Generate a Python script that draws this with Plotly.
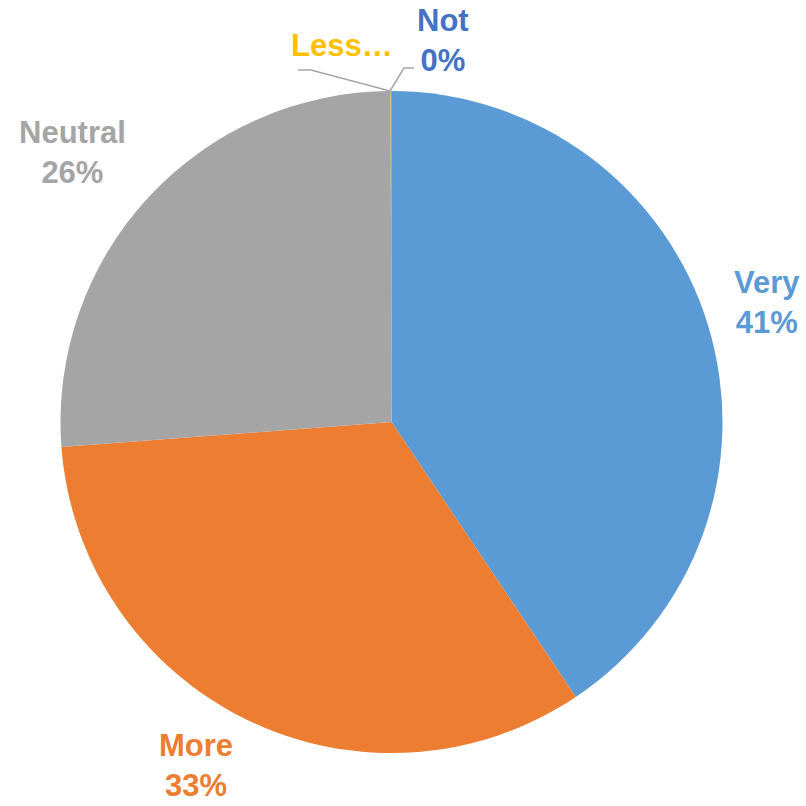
import plotly.graph_objects as go

# Survey answers, clockwise from 12 o'clock
labels = ["Very", "More", "Neutral", "Less", "Not"]
shares = [40.6, 33.2, 26.16, 0.02, 0.02]
colors = ["#5B9BD5", "#ED7D31", "#A5A5A5", "#FFC000", "#4472C4"]
# Labels shown with their percentage; the "Less" label is truncated
label_text = ["Very", "More", "Neutral", "Less…", "Not"]
show_pct = [True, True, True, False, True]

W = H = 806
# Label centres in pixels (x, y from top)
label_pos = [(767, 302), (196, 765), (72, 153), (342, 46), (443, 40)]


def px(x):
    return x / W


def py(y):
    return 1 - y / H


total = sum(shares)

fig = go.Figure(
    go.Pie(
        labels=labels,
        values=shares,
        sort=False,
        direction="clockwise",
        rotation=0,
        marker=dict(colors=colors, line=dict(width=0)),
        textinfo="none",
        hoverinfo="label+percent",
        showlegend=False,
        domain=dict(x=[px(60.5), px(722.5)], y=[py(753), py(91)]),
    )
)

annotations = []
for lab, v, c, show, (x, y) in zip(label_text, shares, colors, show_pct, label_pos):
    txt = f"{lab}<br>{round(100 * v / total)}%" if show else lab
    annotations.append(
        dict(
            x=px(x), y=py(y), xref="paper", yref="paper",
            text=txt, showarrow=False, align="center",
            xanchor="center", yanchor="middle", borderpad=0,
            font=dict(family="Liberation Sans, Arial, sans-serif", size=31,
                      color=c, weight="bold"),
        )
    )

# Leader lines for the two thin slices at the top
leaders = [
    [(298, 70), (311, 70), (390, 91)],
    [(390, 91), (404, 68), (414, 68)],
]
shapes = []
for pts in leaders:
    path = "M " + " L ".join(f"{px(x)},{py(y)}" for x, y in pts)
    shapes.append(dict(type="path", path=path, xref="paper", yref="paper",
                       line=dict(color="#A6A6A6", width=1.5)))

fig.update_layout(
    width=W, height=H,
    margin=dict(l=0, r=0, t=0, b=0),
    paper_bgcolor="white", plot_bgcolor="white",
    annotations=annotations,
    shapes=shapes,
)

fig.write_html("out.html")
